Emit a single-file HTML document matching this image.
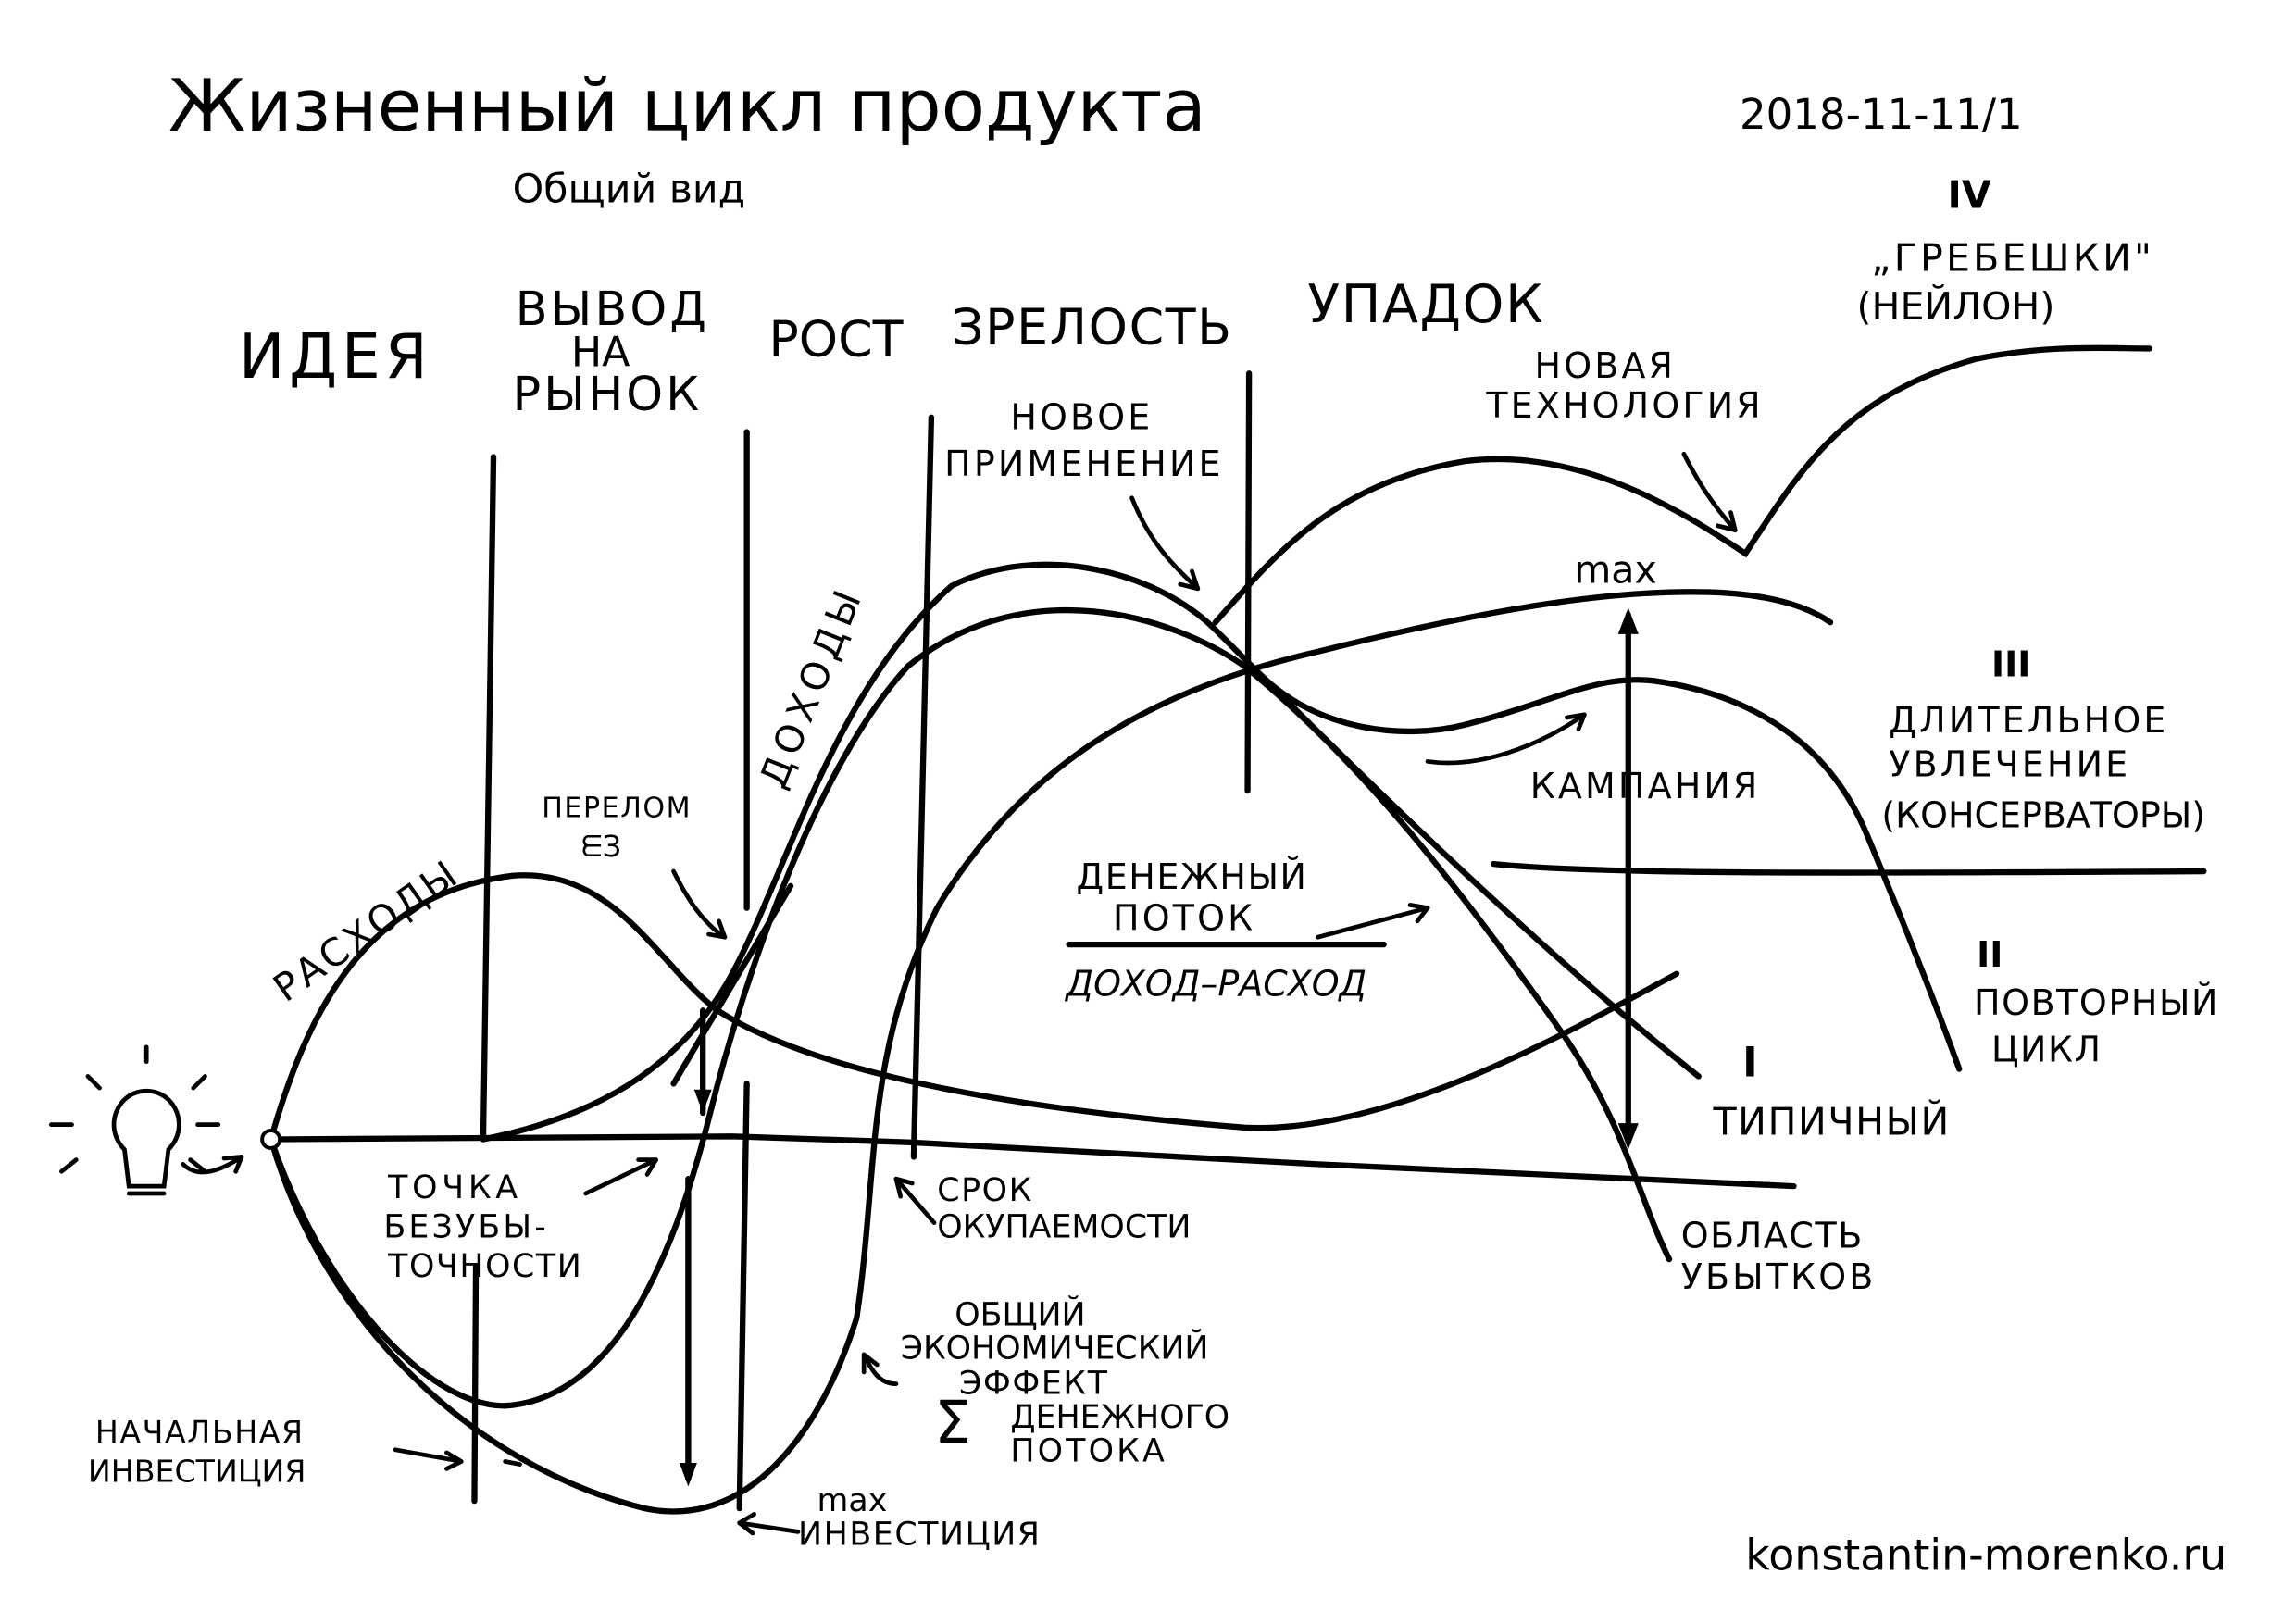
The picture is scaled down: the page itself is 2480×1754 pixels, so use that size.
<!DOCTYPE html>
<html><head><meta charset="utf-8"><style>
html,body{margin:0;padding:0;background:#fff}
svg{display:block}
.h{font-family:"DejaVu Sans","Liberation Sans",sans-serif;fill:#000}
.w{font-family:"DejaVu Sans","Liberation Sans",sans-serif;fill:#000;font-weight:normal}
</style></head><body>
<svg width="2480" height="1754" viewBox="0 0 1568 1109" xmlns="http://www.w3.org/2000/svg">
<rect width="1568" height="1109" fill="#fff"/>
<text class="h" x="115" y="89" font-size="49">Жизненный цикл продукта</text>
<text class="h" x="1188" y="88" font-size="28.5">2018-11-11/1</text>
<text class="h" x="350" y="138" font-size="27">Общий вид</text>
<text class="h" x="1192" y="1072" font-size="29">konstantin-morenko.ru</text>
<g fill="none" stroke="#000" stroke-width="4" stroke-linecap="round">
<path d="M337 312 L330 778"/>
<path d="M510 295 L510 620"/>
<path d="M510 740 L505 1030"/>
<path d="M636 285 L624 790"/>
<path d="M853 255 L852 540"/>
<path d="M325 865 L324 1025"/>
<path d="M185 778 L500 776 L620 780 L900 795 L1225 810"/>
<path d="M185 778 C210 690 250 610 350 598 C420 592 450 660 490 690 C560 735 700 758 850 770 C950 775 1080 700 1145 665"/>
<path d="M330 778 C420 760 470 720 500 665 C540 590 570 470 650 400 C710 370 790 390 830 430 C920 520 1040 640 1160 735"/>
<path d="M185 778 C220 880 290 960 345 960 C420 955 460 860 485 760 C510 660 560 520 620 455 C700 390 800 420 850 455 C930 520 1000 610 1070 710 C1110 770 1120 820 1140 860"/>
<path d="M185 778 C220 900 320 1000 440 1030 C510 1045 560 980 585 900 C600 800 590 720 640 620 C700 520 790 470 900 445 C1000 420 1100 400 1180 405 C1220 408 1240 418 1250 425"/>
<path d="M830 425 C870 380 910 330 1000 315 C1080 305 1150 350 1192 378 C1230 320 1260 270 1350 245 C1400 235 1440 238 1468 238"/>
<path d="M860 460 C900 500 960 505 1000 495 C1060 480 1090 460 1130 465 C1200 475 1250 510 1275 570 C1300 630 1320 680 1338 730"/>
<path d="M1020 590 C1100 598 1300 596 1505 595"/>
<path d="M460 740 L540 605"/>
<path d="M1112 420 L1112 780"/>
<path d="M480 690 L480 760 M470 805 L470 1010"/>
<path d="M730 645 L945 645"/>
</g>
<g fill="#000">
<path d="M1112 415 l-7 18 h14z"/><path d="M1112 785 l-7 -18 h14z"/>
<path d="M480 760 l-6 -16 h12z"/><path d="M470 1015 l-6 -16 h12z"/>
</g>
<g fill="none" stroke="#000" stroke-width="3" stroke-linecap="round">
<path d="M773 340 C785 370 800 385 818 402"/><path d="M818 402 l-4 -12 M818 402 l-12 -3"/>
<path d="M1150 310 C1160 330 1170 345 1185 362"/><path d="M1185 362 l-3 -12 M1185 362 l-12 -3"/>
<path d="M975 520 C1010 525 1050 510 1082 488"/><path d="M1082 488 l-12 2 M1082 488 l-4 10"/>
<path d="M460 595 C470 615 480 630 495 640"/><path d="M495 640 l-4 -11 M495 640 l-11 -2"/>
<path d="M400 815 L448 792"/><path d="M448 792 l-12 0 M448 792 l-6 10"/>
<path d="M638 835 L612 805"/><path d="M612 805 l3 12 M612 805 l11 3"/>
<path d="M612 945 C600 945 595 935 590 925"/><path d="M590 925 l0 12 M590 925 l9 7"/>
<path d="M270 990 L315 998 M345 998 L355 1000"/><path d="M315 998 l-10 -6 M315 998 l-10 5"/>
<path d="M545 1046 L505 1040"/><path d="M505 1040 l10 -6 M505 1040 l9 7"/>
<path d="M125 795 C135 805 150 800 165 790"/><path d="M165 790 l-12 1 M165 790 l-4 10"/>
<path d="M900 640 L975 620"/><path d="M975 620 l-12 -2 M975 620 l-7 9"/>
<path d="M100 715 v10 M60 735 l8 8 M140 735 l-8 8 M35 768 h14 M135 768 h14 M42 800 l10 -8 M140 800 l-10 -8"/>
<path d="M85 785 C70 770 80 745 100 745 C120 745 130 770 115 785 L112 810 L88 810 Z M88 815 h24"/>
</g>
<circle cx="185" cy="778" r="6" fill="#fff" stroke="#000" stroke-width="2.5"/>
<g class="w">
<text x="163" y="258" font-size="42" letter-spacing="3">ИДЕЯ</text>
<text x="352" y="222" font-size="32" letter-spacing="2">ВЫВОД</text>
<text x="390" y="250" font-size="28">НА</text>
<text x="350" y="280" font-size="32" letter-spacing="2">РЫНОК</text>
<text x="525" y="243" font-size="34">РОСТ</text>
<text x="650" y="235" font-size="34" letter-spacing="1">ЗРЕЛОСТЬ</text>
<text x="893" y="220" font-size="36" letter-spacing="1">УПАДОК</text>
<text x="1048" y="258" font-size="24" letter-spacing="2">НОВАЯ</text>
<text x="1015" y="285" font-size="24" letter-spacing="2">ТЕХНОЛОГИЯ</text>
<text x="690" y="293" font-size="24" letter-spacing="2">НОВОЕ</text>
<text x="645" y="325" font-size="24" letter-spacing="2">ПРИМЕНЕНИЕ</text>
<text x="1330" y="142" font-size="26" font-weight="bold">IV</text>
<text x="1278" y="185" font-size="26" letter-spacing="2">„ГРЕБЕШКИ"</text>
<text x="1268" y="218" font-size="26">(НЕЙЛОН)</text>
<text x="1075" y="398" font-size="26">max</text>
<text x="1360" y="462" font-size="24" font-weight="bold">III</text>
<text x="1290" y="500" font-size="24" letter-spacing="2">ДЛИТЕЛЬНОЕ</text>
<text x="1290" y="530" font-size="24" letter-spacing="2">УВЛЕЧЕНИЕ</text>
<text x="1285" y="565" font-size="24">(КОНСЕРВАТОРЫ)</text>
<text x="1045" y="545" font-size="24" letter-spacing="2">КАМПАНИЯ</text>
<text x="1350" y="660" font-size="24" font-weight="bold">II</text>
<text x="1348" y="693" font-size="24" letter-spacing="1">ПОВТОРНЫЙ</text>
<text x="1360" y="725" font-size="24" letter-spacing="1">ЦИКЛ</text>
<text x="1190" y="735" font-size="28" font-weight="bold">I</text>
<text x="1170" y="775" font-size="26" letter-spacing="1">ТИПИЧНЫЙ</text>
<text x="1148" y="852" font-size="24" letter-spacing="1">ОБЛАСТЬ</text>
<text x="1148" y="880" font-size="24" letter-spacing="2">УБЫТКОВ</text>
<text x="735" y="607" font-size="24" letter-spacing="1">ДЕНЕЖНЫЙ</text>
<text x="760" y="635" font-size="24" letter-spacing="2">ПОТОК</text>
<text x="728" y="680" font-size="24" font-style="italic">ДОХОД–РАСХОД</text>
<text x="370" y="558" font-size="19" letter-spacing="1">ПЕРЕЛОМ</text>
<text x="397" y="585" font-size="20">ᗴЗ</text>
<text x="265" y="818" font-size="22" letter-spacing="3">ТОЧКА</text>
<text x="262" y="845" font-size="22" letter-spacing="2">БЕЗУБЫ-</text>
<text x="265" y="872" font-size="22" letter-spacing="1">ТОЧНОСТИ</text>
<text x="640" y="820" font-size="22" letter-spacing="1">СРОК</text>
<text x="640" y="845" font-size="22">ОКУПАЕМОСТИ</text>
<text x="652" y="905" font-size="22">ОБЩИЙ</text>
<text x="615" y="928" font-size="22">ЭКОНОМИЧЕСКИЙ</text>
<text x="655" y="952" font-size="22" letter-spacing="1">ЭФФЕКТ</text>
<text x="638" y="985" font-size="40">Σ</text>
<text x="690" y="975" font-size="22">ДЕНЕЖНОГО</text>
<text x="690" y="998" font-size="22" letter-spacing="2">ПОТОКА</text>
<text x="65" y="985" font-size="21" letter-spacing="1">НАЧАЛЬНАЯ</text>
<text x="60" y="1012" font-size="21">ИНВЕСТИЦИЯ</text>
<text x="558" y="1032" font-size="22">max</text>
<text x="545" y="1055" font-size="22" letter-spacing="1">ИНВЕСТИЦИЯ</text>
<text font-size="26" letter-spacing="2" transform="translate(195 685) rotate(-35)">РАСХОДЫ</text>
<text font-size="26" letter-spacing="4" transform="translate(535 540) rotate(-68)">ДОХОДЫ</text>
</g>
</svg>
</body></html>
